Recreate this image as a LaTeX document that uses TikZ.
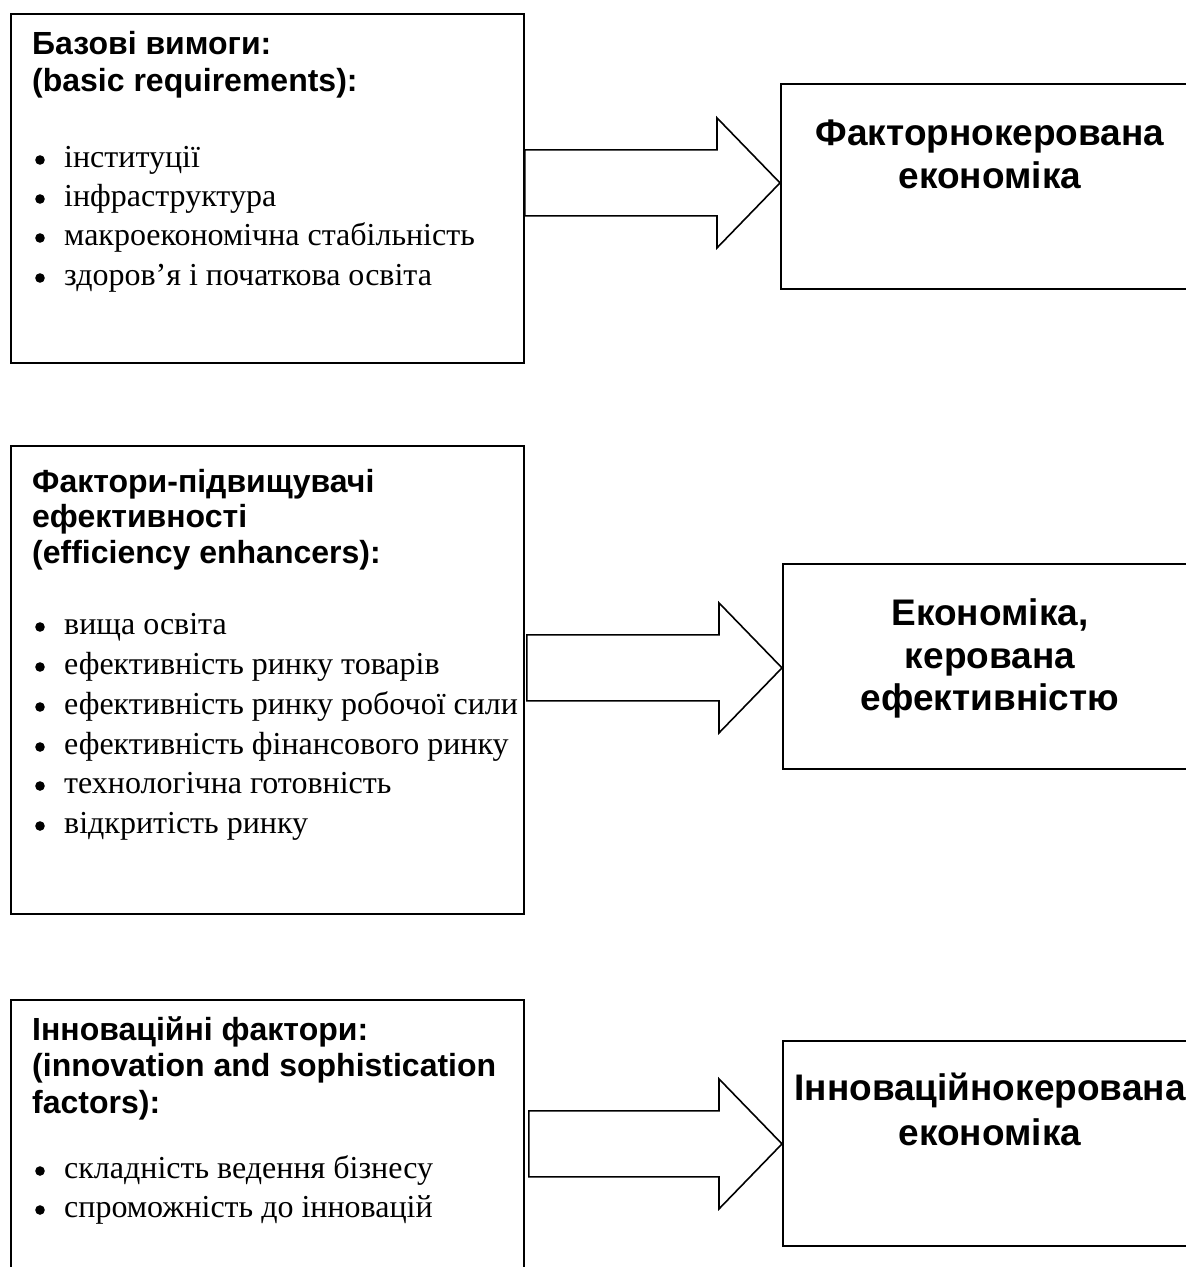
\documentclass[tikz,border=0pt]{standalone}
\usepackage{fontspec}
\setmainfont{Liberation Serif}
\newfontfamily\headfont{Liberation Sans}
\usetikzlibrary{calc}

\tikzset{
  boxframe/.style={draw=black, line width=1.8pt, inner sep=0pt, anchor=north west},
  headtext/.style={anchor=base west, inner sep=0pt, font=\headfont\bfseries\fontsize{32}{37}\selectfont},
  listitem/.style={anchor=base west, inner sep=0pt, font=\fontsize{32}{38}\selectfont},
  resulttext/.style={anchor=base, inner sep=0pt, font=\headfont\bfseries\fontsize{37}{43}\selectfont},
  blockarrow/.style={draw=black, line width=1.6pt, fill=white, line join=miter},
  dot/.style={fill=black},
}

% one list entry: text node #1 on baseline #2, with a round bullet in front
\newcommand\listline[3]{%
  \node[listitem] (#1) at (64,#2) {#3};
  \fill[dot] ($(#1.base west)+(-24,-7)$) circle (4.8pt);}

% wide block arrow from the right side of #1 to the left side of #2,
% tail shifted right by #3, whole arrow shifted up by #4
\newcommand\blockarrow[4]{%
  \draw[blockarrow] let \p1=(#1.east), \p2=($(#2.west)+(0,-#4)$) in
    (\x1+#3,\y2+33pt) -- (\x2-63pt,\y2+33pt) -- (\x2-63pt,\y2+65pt) --
    (\x2,\y2) -- (\x2-63pt,\y2-65pt) -- (\x2-63pt,\y2-33pt) --
    (\x1+#3,\y2-33pt) -- cycle;}

\begin{document}
\begin{tikzpicture}[x=1pt, y=-1pt]
\useasboundingbox (0,0) rectangle (1186,1267);
\fill[white] (0,0) rectangle (1186,1267);

% ---- left column: groups of factors ----
\node[boxframe, minimum width=513pt, minimum height=349pt] (b1) at (10,13) {};
\node[boxframe, minimum width=513pt, minimum height=468pt] (b2) at (10,445) {};
\node[boxframe, minimum width=513pt, minimum height=330pt] (b3) at (10,999) {};

% ---- right column: stages of development ----
\node[boxframe, minimum width=420pt, minimum height=205pt] (r1) at (780,83) {};
\node[boxframe, minimum width=420pt, minimum height=205pt] (r2) at (782,563) {};
\node[boxframe, minimum width=420pt, minimum height=205pt] (r3) at (782,1040) {};

% ---- block arrows ----
\blockarrow{b1}{r1}{0pt}{3.5}
\blockarrow{b2}{r2}{2pt}{-1.5}
\blockarrow{b3}{r3}{4pt}{-0.5}

% ---- group 1 ----
\node[headtext] (h11) at (32,54) {Базові вимоги:};
\node[headtext] (h12) at (32,91) {(basic requirements):};
\listline{i11}{167}{інституції}
\listline{i12}{206}{інфраструктура}
\listline{i13}{245}{макроекономічна стабільність}
\listline{i14}{285}{здоров’я і початкова освіта}

% ---- group 2 ----
\node[headtext] (h21) at (32,492) {Фактори-підвищувачі};
\node[headtext] (h22) at (32,527) {ефективності};
\node[headtext] (h23) at (32,563) {(efficiency enhancers):};
\listline{i21}{634}{вища освіта}
\listline{i22}{674}{ефективність ринку товарів}
\listline{i23}{714}{ефективність ринку робочої сили}
\listline{i24}{754}{ефективність фінансового ринку}
\listline{i25}{793}{технологічна готовність}
\listline{i26}{833}{відкритість ринку}

% ---- group 3 ----
\node[headtext] (h31) at (32,1040) {Інноваційні фактори:};
\node[headtext] (h32) at (32,1076) {(innovation and sophistication};
\node[headtext] (h33) at (32,1113) {factors):};
\listline{i31}{1178}{складність ведення бізнесу}
\listline{i32}{1217}{спроможність до інновацій}

% ---- stage titles ----
\node[resulttext] (t11) at (990,145) {Факторнокерована};
\node[resulttext] (t12) at (990,188) {економіка};
\node[resulttext] (t21) at (990,625) {Економіка,};
\node[resulttext] (t22) at (990,668) {керована};
\node[resulttext] (t23) at (990,710) {ефективністю};
\node[resulttext] (t31) at (990,1100) {Інноваційнокерована};
\node[resulttext] (t32) at (990,1145) {економіка};
\end{tikzpicture}
\end{document}
